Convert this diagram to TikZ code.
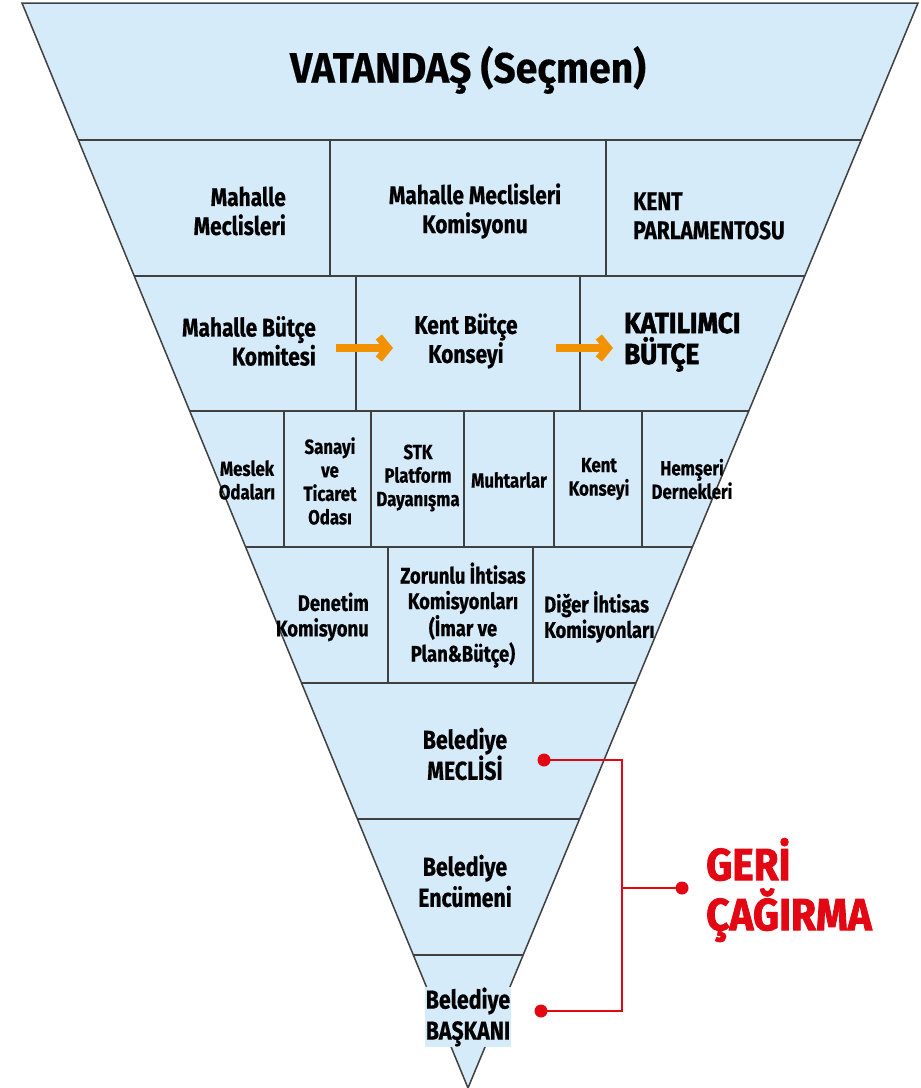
\documentclass[tikz,border=0pt]{standalone}
\usepackage{fontspec}
\setmainfont{Fira Sans}
\newfontfamily\cf[FakeStretch=0.82,FakeBold=0.6]{Fira Sans}
\newfontfamily\tf[FakeStretch=0.92,FakeBold=0.4]{Fira Sans}
\newfontfamily\hf[FakeStretch=0.9,FakeBold=1.8]{Fira Sans}
\usetikzlibrary{arrows.meta,calc}
\definecolor{cellblue}{RGB}{213,235,250}
\definecolor{edgegray}{RGB}{64,64,64}
\definecolor{arrorange}{RGB}{243,146,0}
\definecolor{redc}{RGB}{227,6,19}
\begin{document}
\begin{tikzpicture}[x=1pt,y=-1pt,
  lbl/.style={inner sep=0pt, text=black, font=\cf\bfseries\fontsize{25.5}{29}\selectfont},
  small/.style={lbl, font=\cf\bfseries\fontsize{20.5}{23.5}\selectfont},
  mid/.style={lbl, font=\cf\bfseries\fontsize{22.5}{25.5}\selectfont},
  low/.style={lbl, font=\cf\bfseries\fontsize{26}{31}\selectfont},
  orangearrow/.style={draw=arrorange, line width=8pt, -{Straight Barb[length=9pt,width=22pt,line width=8pt]}},
  redline/.style={draw=redc, line width=1.6pt},
  reddot/.style={circle, fill=redc, inner sep=0pt, minimum size=13pt}]
\useasboundingbox (0,0) rectangle (921,1088);
\coordinate (TL) at (22,3);
\coordinate (TR) at (918,3);
\coordinate (AP) at (468,1088);
% funnel
\fill[cellblue] (TL) -- (TR) -- (AP) -- cycle;
\begin{scope}
\clip (TL) -- (TR) -- (AP) -- cycle;
\begin{scope}[draw=edgegray, line width=1.5pt]
\foreach \y in {140,276,411,547,683,819,955} \draw (0,\y) -- (921,\y);
\foreach \x in {330,606} \draw (\x,140) -- (\x,276);
\foreach \x in {356,580} \draw (\x,276) -- (\x,411);
\foreach \x in {284,371,464,554,642} \draw (\x,411) -- (\x,547);
\foreach \x in {388,533} \draw (\x,547) -- (\x,683);
\end{scope}
\end{scope}
\draw[edgegray, line width=1.5pt] (TL) -- (TR) -- (AP) -- cycle;
% row 1
\node[lbl, font=\tf\bfseries\fontsize{42.5}{48}\selectfont] (vat) at (468,70) {VATANDAŞ (Seçmen)};
% row 2
\node[lbl, anchor=east, align=right] (mm) at (286,211) {Mahalle\\Meclisleri};
\node[lbl, align=center] (mmk) at (475,211) {Mahalle Meclisleri\\Komisyonu};
\node[lbl, anchor=west, align=left] (kp) at (633,216) {KENT\\PARLAMENTOSU};
% row 3
\node[lbl, anchor=east, align=right] (mbk) at (316,341) {Mahalle Bütçe\\Komitesi};
\node[lbl, align=center] (kbk) at (466,341) {Kent Bütçe\\Konseyi};
\node[lbl, anchor=west, align=left, font=\hf\bfseries\fontsize{29}{31}\selectfont] (kat) at (624,342) {KATILIMCI\\BÜTÇE};
\coordinate (a1s) at (336,348);
\coordinate (a1e) at (393,348);
\coordinate (a2s) at (556,348);
\coordinate (a2e) at (613,348);
\draw[orangearrow] (a1s) -- (a1e);
\draw[orangearrow] (a2s) -- (a2e);
% row 4
\node[small, align=center] (mo) at (247,480) {Meslek\\Odaları};
\node[small, align=center] (sto) at (330,481) {Sanayi\\ve\\Ticaret\\Odası};
\node[small, align=center] (stk) at (418,478) {STK\\Platform\\Dayanışma};
\node[small, align=center] (muh) at (509,480) {Muhtarlar};
\node[small, align=center] (kk) at (599,479) {Kent\\Konseyi};
\node[small, align=center] (hd) at (692,479) {Hemşeri\\Dernekleri};
% row 5
\node[mid, anchor=east, align=right] (dk) at (369,617) {Denetim\\Komisyonu};
\node[mid, align=center] (zik) at (463,615) {Zorunlu İhtisas\\Komisyonları\\(İmar ve\\Plan\&Bütçe)};
\node[mid, anchor=west, align=left] (dik) at (544,617) {Diğer İhtisas\\Komisyonları};
% rows 6-8
\node[low, align=center] (bm) at (465,754) {Belediye\\MECLİSİ};
\node[low, align=center] (be) at (465,881) {Belediye\\Encümeni};
\node[low, align=center, fill=cellblue, inner sep=0.5pt] (bb) at (468,1017) {Belediye\\BAŞKANI};
% recall connector
\node[reddot] (d1) at (544,760) {};
\node[reddot] (d2) at (541,1011) {};
\node[reddot] (d3) at (682,888) {};
\coordinate (bar) at (622,888);
\draw[redline] (d1.center) -| (bar) |- (d2.center);
\draw[redline] (bar) -- (d3.center);
\node[lbl, anchor=west, align=left, text=redc, font=\hf\bfseries\fontsize{45}{50}\selectfont] (geri) at (706,890) {GERİ\\ÇAĞIRMA};
\end{tikzpicture}
\end{document}
